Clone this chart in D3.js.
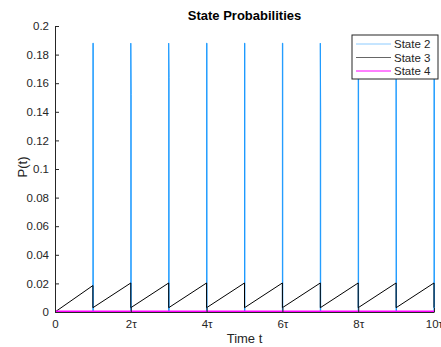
<!DOCTYPE html>
<html>
<head>
<meta charset="utf-8">
<script src="https://cdn.jsdelivr.net/npm/d3@7"></script>
<style>
  body { margin: 0; background: #fff; }
  text { font-family: "Liberation Sans", Arial, sans-serif; }
</style>
</head>
<body>
<div id="chart"></div>
<script>
// data (time in units of tau)
var spikeTimes = [1, 2, 3, 4, 5, 6, 7, 8, 9, 10];
var spikeHigh = [0.188, 0.188, 0.188, 0.188, 0.188, 0.188, 0.188, 0.188, 0.188, 0.188];
var spikeSecond = [0.188, 0.152, 0.164, 0.188, 0.188, 0.188, 0.14, 0.188, 0.006, 0.188];
var sawStart = [0, 0.003, 0.003, 0.003, 0.003, 0.003, 0.003, 0.003, 0.003, 0.003];
var sawEnd = [0.0185, 0.0203, 0.0203, 0.0203, 0.0203, 0.0203, 0.0203, 0.0203, 0.0203, 0.0203];
var state4Level = 0.0003;
var xTicks = [0, 2, 4, 6, 8, 10];
var yTicks = [0, 0.02, 0.04, 0.06, 0.08, 0.1, 0.12, 0.14, 0.16, 0.18, 0.2];
var legendNames = ["State 2", "State 3", "State 4"];
var legendColors = ["#8ccbff", "#666666", "#ff00ff"];

var svgWidth = 441, svgHeight = 347;
var margin = { top: 26, left: 55, right: 7, bottom: 35 };
var width = svgWidth - margin.left - margin.right;
var height = svgHeight - margin.top - margin.bottom;

var svg = d3.select("#chart").append("svg")
  .attr("width", svgWidth)
  .attr("height", svgHeight);

var g = svg.append("g")
  .attr("transform", `translate(${margin.left}, ${margin.top})`);

var x = d3.scaleLinear().domain([0, 10]).range([0, width]);
var y = d3.scaleLinear().domain([0, 0.2]).range([height, 0]);

var axisColor = "#262626";

// build series from the arrays
var state2 = [[0, 0]];
spikeTimes.forEach(function(t, i) {
  state2.push([t, 0], [t, spikeHigh[i]], [t + 0.01, spikeSecond[i]], [t + 0.01, 0]);
});
var state3 = [];
spikeTimes.forEach(function(t, i) {
  state3.push([t - 1, sawStart[i]], [t, sawEnd[i]]);
});
state3.push([10, sawStart[1]]);
var state4 = [[0, state4Level], [10, state4Level]];

var line = d3.line()
  .x(d => x(d[0]))
  .y(d => y(d[1]));

g.append("path").datum(state2)
  .attr("d", line).attr("fill", "none")
  .attr("stroke", "#1e9bff").attr("stroke-width", 1);

g.append("path").datum(state3)
  .attr("d", line).attr("fill", "none")
  .attr("stroke", "#000").attr("stroke-width", 1);

g.append("path").datum(state4)
  .attr("d", line).attr("fill", "none")
  .attr("stroke", "#ff00ff").attr("stroke-width", 2);

// axes
var xAxis = d3.axisBottom(x).tickValues(xTicks).tickSizeInner(-4).tickSizeOuter(0)
  .tickPadding(8).tickFormat(d => d === 0 ? "0" : d + "\u03C4");
var yAxis = d3.axisLeft(y).tickValues(yTicks).tickSizeInner(-4).tickSizeOuter(0)
  .tickPadding(6).tickFormat(d => d3.format("")(+d.toFixed(2)));

var gx = g.append("g").attr("transform", `translate(0, ${height})`).call(xAxis);
var gy = g.append("g").call(yAxis);

[gx, gy].forEach(function(a) {
  a.select(".domain").attr("stroke", axisColor);
  a.selectAll(".tick line").attr("stroke", axisColor);
  a.selectAll(".tick text").attr("fill", axisColor).style("font-size", "11.5px")
    .style("font-family", "Liberation Sans, Arial, sans-serif");
});

// titles
svg.append("text")
  .attr("x", margin.left + width / 2).attr("y", 20)
  .attr("text-anchor", "middle").attr("font-weight", "bold")
  .attr("font-size", "13px").attr("fill", "#000")
  .text("State Probabilities");

svg.append("text")
  .attr("x", margin.left + width / 2).attr("y", 343)
  .attr("text-anchor", "middle").attr("font-size", "13px").attr("fill", axisColor)
  .text("Time t");

svg.append("text")
  .attr("transform", `translate(27, 167) rotate(-90)`)
  .attr("text-anchor", "middle").attr("font-size", "13px").attr("fill", axisColor)
  .text("P(t)");

// legend
var legend = svg.append("g").attr("transform", "translate(352, 35)");
legend.append("rect")
  .attr("width", 86).attr("height", 44)
  .attr("fill", "#fff").attr("stroke", axisColor).attr("stroke-width", 1);

legendNames.forEach(function(name, i) {
  var ly = 9 + i * 13.5;
  legend.append("line")
    .attr("x1", 4).attr("x2", 39).attr("y1", ly).attr("y2", ly)
    .attr("stroke", legendColors[i]).attr("stroke-width", 1);
  legend.append("text")
    .attr("x", 42).attr("y", ly + 4)
    .attr("font-size", "11.5px").attr("fill", axisColor)
    .text(name);
});
</script>
</body>
</html>
